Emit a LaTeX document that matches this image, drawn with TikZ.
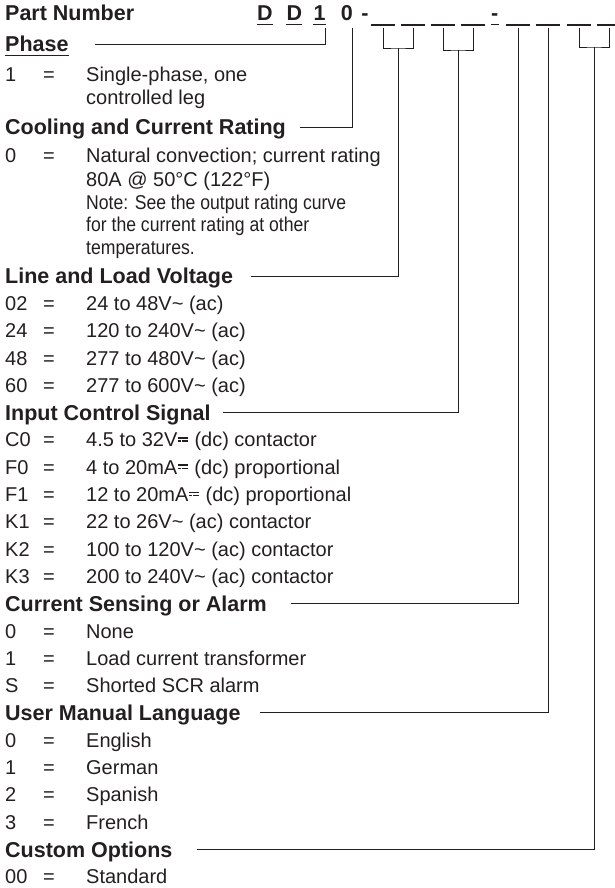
\documentclass[tikz,border=0pt]{standalone}
\usepackage{fontspec}
\setmainfont{Liberation Sans}
\newfontfamily\narrowfont[FakeStretch=0.88]{Liberation Sans}
\usetikzlibrary{positioning,calc}
\definecolor{ink}{HTML}{231F20}
\newcommand{\reg}{\fontsize{20}{24}\selectfont}
\newcommand{\bld}{\fontsize{21.5}{26}\selectfont\bfseries}
% code, equals sign, description
\newcommand{\opt}[2]{\makebox[38pt][l]{#1}=\hspace{31.3pt}#2}
\newcommand{\cont}[1]{\hspace{81pt}#1}
% direct current sign
\newcommand{\dcs}{\kern0.04em\rlap{\raisebox{0.42em}{\rule{0.5em}{0.07em}}}\raisebox{0.26em}{\rule{0.14em}{0.07em}\kern0.04em\rule{0.14em}{0.07em}\kern0.04em\rule{0.14em}{0.07em}}\kern0.04em}

\begin{document}
\begin{tikzpicture}[x=1pt,y=-1pt,
		head/.style={anchor=west,inner sep=0pt,text height=15.4pt,text depth=0pt,font=\bld,text=ink},
		row/.style={anchor=west,inner sep=0pt,text height=14.3pt,text depth=0pt,font=\reg,text=ink},
		note/.style={row,font=\narrowfont\reg},
		slot/.style={inner sep=0pt,minimum width=23pt,minimum height=0pt},
		link/.style={draw=ink,line width=0.9pt},
		uline/.style={draw=ink,line width=1.3pt}
		]
		\useasboundingbox (0,0) rectangle (614,888);
		% part number
		\node[head] (pn) at (5,13) {Part Number};
		\node[head] (d1) at (257,13) {D};
		\node[head] (d2) [right=13.5pt of d1] {D};
		\node[head] (one) [right=11pt of d2] {1};
		\node[head] (zero) [right=15pt of one] {0};
		\node[head] (hy1) [right=8pt of zero] {-};
		\node[head] (hy2) at (491,13) {-};
		\foreach \n/\xx in {s1/383,s2/413,s3/443,s4/473,s5/518,s6/548,s7/579,s8/609}
		\node[slot] (\n) at (\xx,25) {};
		\foreach \n in {s1,s2,s3,s4,s5,s6,s7,s8}
		\draw[uline] (\n.west) -- (\n.east);
		\foreach \n in {d1,d2,one,hy2}
		\draw[uline] ([yshift=-4pt]\n.base west) -- ([yshift=-4pt]\n.base east);
		\coordinate (b1) at ($(s1)!0.5!(s2)+(0,23)$);
		\coordinate (b2) at ($(s3)!0.5!(s4)+(0,25)$);
		\coordinate (b3) at ($(s7)!0.5!(s8)+(0,22)$);
		
		% phase
		\node[head] (phase) [below=31pt of pn.west, anchor=west] {Phase};
		\draw[uline] ([yshift=-3.5pt]phase.base west) -- ([yshift=-3.5pt]phase.base east);
		\node[row] (ph1) [below=30pt of phase.west, anchor=west] {\opt{1}{Single-phase, one}};
		\node[row] (ph1b) [below=23pt of ph1.west, anchor=west] {\cont{controlled leg}};
		
		% cooling
		\node[head] (cool) [below=30pt of ph1b.west, anchor=west] {Cooling and Current Rating};
		\node[row] (co0) [below=28pt of cool.west, anchor=west] {\opt{0}{Natural convection; current rating}};
		\node[row] (co0b) [below=24pt of co0.west, anchor=west] {\cont{80A @ 50°C (122°F)}};
		\node[note] (co0c) [below=23pt of co0b.west, anchor=west] {\cont{Note: See the output rating curve}};
		\node[note] (co0d) [below=22pt of co0c.west, anchor=west] {\cont{for the current rating at other}};
		\node[note] (co0e) [below=23pt of co0d.west, anchor=west] {\cont{temperatures.}};
		
		% voltage
		\node[head] (volt) [below=29pt of co0e.west, anchor=west] {Line and Load Voltage};
		\node[row] (v02) [below=27.3pt of volt.west, anchor=west] {\opt{02}{24 to 48V\textasciitilde{} (ac)}};
		\node[row] (v24) [below=27.3pt of v02.west, anchor=west] {\opt{24}{120 to 240V\textasciitilde{} (ac)}};
		\node[row] (v48) [below=27.3pt of v24.west, anchor=west] {\opt{48}{277 to 480V\textasciitilde{} (ac)}};
		\node[row] (v60) [below=27.3pt of v48.west, anchor=west] {\opt{60}{277 to 600V\textasciitilde{} (ac)}};
		
		% input signal
		\node[head] (sig) [below=27.3pt of v60.west, anchor=west] {Input Control Signal};
		\node[row] (c0) [below=27.3pt of sig.west, anchor=west] {\opt{C0}{4.5 to 32V\dcs{} (dc) contactor}};
		\node[row] (f0) [below=27.3pt of c0.west, anchor=west] {\opt{F0}{4 to 20mA\dcs{} (dc) proportional}};
		\node[row] (f1) [below=27.3pt of f0.west, anchor=west] {\opt{F1}{12 to 20mA\dcs{} (dc) proportional}};
		\node[row] (k1) [below=27.3pt of f1.west, anchor=west] {\opt{K1}{22 to 26V\textasciitilde{} (ac) contactor}};
		\node[row] (k2) [below=27.3pt of k1.west, anchor=west] {\opt{K2}{100 to 120V\textasciitilde{} (ac) contactor}};
		\node[row] (k3) [below=27.3pt of k2.west, anchor=west] {\opt{K3}{200 to 240V\textasciitilde{} (ac) contactor}};
		
		% sensing
		\node[head] (sense) [below=27.3pt of k3.west, anchor=west] {Current Sensing or Alarm};
		\node[row] (n0) [below=27.3pt of sense.west, anchor=west] {\opt{0}{None}};
		\node[row] (n1) [below=27.3pt of n0.west, anchor=west] {\opt{1}{Load current transformer}};
		\node[row] (ns) [below=27.3pt of n1.west, anchor=west] {\opt{S}{Shorted SCR alarm}};
		
		% language
		\node[head] (lang) [below=27.3pt of ns.west, anchor=west] {User Manual Language};
		\node[row] (l0) [below=27.3pt of lang.west, anchor=west] {\opt{0}{English}};
		\node[row] (l1) [below=27.3pt of l0.west, anchor=west] {\opt{1}{German}};
		\node[row] (l2) [below=27.3pt of l1.west, anchor=west] {\opt{2}{Spanish}};
		\node[row] (l3) [below=27.3pt of l2.west, anchor=west] {\opt{3}{French}};
		
		% options
		\node[head] (cust) [below=27.3pt of l3.west, anchor=west] {Custom Options};
		\node[row] (o00) [below=27.3pt of cust.west, anchor=west] {\opt{00}{Standard}};
		
		% leaders
		\draw[link] ([xshift=26pt]phase.east) -| ([yshift=-7pt]one.south east);
		\draw[link] ([xshift=14pt]cool.east) -| ([xshift=-1pt,yshift=-7pt]zero.south east);
		\draw[link] ([yshift=-3pt]s1.center) |- (b1) -| ([yshift=-3pt]s2.center);
		\draw[link] ([xshift=18pt]volt.east) -| (b1);
		\draw[link] ([yshift=-3pt]s3.center) |- (b2) -| ([yshift=-3pt]s4.center);
		\draw[link] ([xshift=12pt]sig.east) -| (b2);
		\draw[link] ([xshift=24pt]sense.east) -| ([yshift=-3pt]s5.center);
		\draw[link] ([xshift=19pt]lang.east) -| ([yshift=-3pt]s6.center);
		\draw[link] ([yshift=-3pt]s7.center) |- (b3) -| ([yshift=-3pt]s8.center);
		\draw[link] ([xshift=24pt]cust.east) -| (b3);
	\end{tikzpicture}
\end{document}
